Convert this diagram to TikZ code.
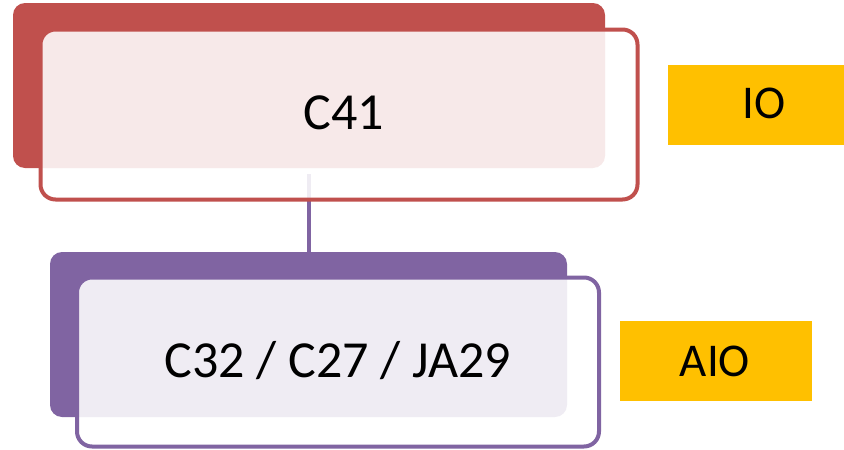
\documentclass[tikz,border=0pt]{standalone}
\usepackage{fontspec}
\setmainfont{Carlito}
\definecolor{cred}{HTML}{C0504D}
\definecolor{cpurple}{HTML}{8064A2}
\definecolor{cyellow}{HTML}{FFC000}
\tikzset{
  base/.style={rectangle, inner sep=0pt, outer sep=0pt},
  backbox/.style={base, rounded corners=12pt, fill=#1},
  frontbox/.style={base, rounded corners=15pt, draw=#1, line width=4pt, fill=white, fill opacity=0.88, draw opacity=1},
  tagbox/.style={base, fill=cyellow, minimum width=192pt, minimum height=80pt},
  bigtext/.style={font=\fontsize{52}{60}\selectfont, inner sep=0pt, text=black},
  tagtext/.style={font=\fontsize{47}{54}\selectfont, inner sep=0pt, text=black},
  link/.style={draw=cpurple, line width=4.5pt}
}
\begin{document}
\begin{tikzpicture}[x=1pt,y=-1pt]
\useasboundingbox (0,0) rectangle (844,450);
% upper group
\node[backbox=cred, minimum width=592pt, minimum height=165pt] (rback) at (309,85.5) {};
\coordinate (ltop) at (309,174);
\coordinate (lbot) at (309,252);
\draw[link] (ltop) -- (lbot);
\node[frontbox=cred, minimum width=597pt, minimum height=170pt] (rfront) at (339,114.5) {};
\node[bigtext] (t1) at (344,113) {C41};
% lower group
\node[backbox=cpurple, minimum width=517pt, minimum height=165pt] (pback) at (308.5,334.5) {};
\node[frontbox=cpurple, minimum width=522pt, minimum height=169pt] (pfront) at (338,362) {};
\node[bigtext] (t2) at (338,361) {C32 / C27 / JA29};
% tags
\node[tagbox] (io) at (764,105) {};
\node[tagtext] (iot) at (764,103) {IO};
\node[tagbox] (aio) at (716,361) {};
\node[tagtext] (aiot) at (715,361) {AIO};
\end{tikzpicture}
\end{document}
